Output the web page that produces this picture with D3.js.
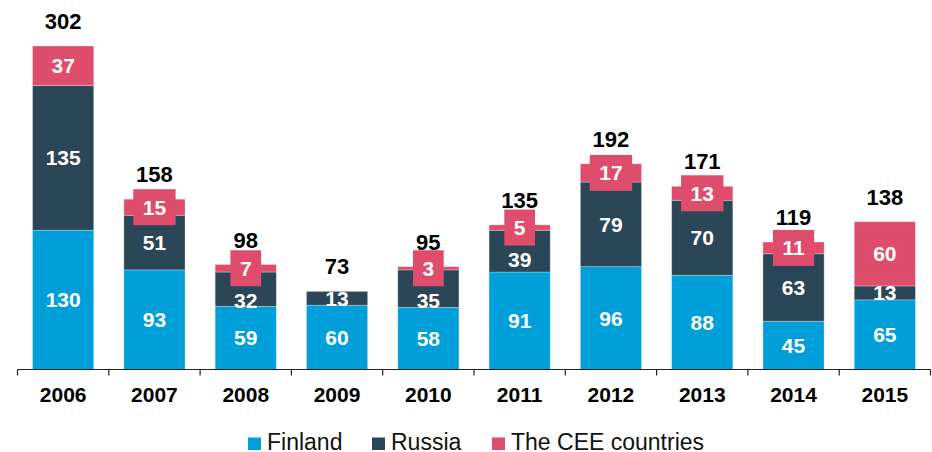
<!DOCTYPE html>
<html>
<head>
<meta charset="utf-8">
<script src="https://cdn.jsdelivr.net/npm/d3@7"></script>
<style>
    body { margin: 0; background: #fff; }
    svg text { font-family: Arial, "Liberation Sans", sans-serif; }
</style>
</head>
<body>
<svg id="chart" width="932" height="452"></svg>
<script>
'use strict';
let years = ["2006", "2007", "2008", "2009", "2010", "2011", "2012", "2013", "2014", "2015"];
let finland = [130, 93, 59, 60, 58, 91, 96, 88, 45, 65];
let russia = [135, 51, 32, 13, 35, 39, 79, 70, 63, 13];
let cee = [37, 15, 7, 0.3, 3, 5, 17, 13, 11, 60];
let totals = [302, 158, 98, 73, 95, 135, 192, 171, 119, 138];
let seriesNames = ["Finland", "Russia", "The CEE countries"];

let colors = ["#009fd9", "#2b4656", "#de4d6b"];

let svg = d3.select("#chart");
let baseY = 369.5;

let x = d3.scaleBand()
    .domain(years)
    .range([17.5, 930.5])
    .paddingInner(0.33)
    .paddingOuter(0.165);

let y = d3.scaleLinear()
    .domain([0, 302])
    .range([baseY, 46]);

let rows = years.map((yr, i) => ({year: yr, Finland: finland[i], Russia: russia[i], "The CEE countries": cee[i], total: totals[i]}));
let stacked = d3.stack().keys(seriesNames)(rows);

// bars
let layer = svg.selectAll("g.layer")
    .data(stacked)
    .enter().append("g")
    .attr("class", "layer")
    .attr("fill", (d, i) => colors[i]);

layer.selectAll("rect")
    .data(d => d)
    .enter().append("rect")
    .attr("x", d => x(d.data.year))
    .attr("width", x.bandwidth())
    .attr("y", d => y(d[1]))
    .attr("height", d => y(d[0]) - y(d[1]))
    .attr("stroke", "rgba(255,255,255,0.35)")
    .attr("stroke-width", 0.8);

// segment labels, top series first so the lower labels can move out of the CEE boxes
let boxBottom = {};
[2, 1, 0].forEach(si => {
    let g = svg.append("g");
    stacked[si].forEach(d => {
        let v = d[1] - d[0];
        if (v < 1) return;
        let yr = d.data.year;
        let cx = x(yr) + x.bandwidth() / 2;
        let cy = (y(d[0]) + y(d[1])) / 2;
        if (si === 1 && boxBottom[yr] !== undefined) {
            cy = Math.max(cy, boxBottom[yr] + 14);
        }
        let t = g.append("text")
            .attr("x", cx)
            .attr("y", cy + 7.5)
            .attr("text-anchor", "middle")
            .attr("fill", "#fff")
            .attr("font-size", 21)
            .attr("font-weight", "bold")
            .text(d3.format("d")(v));
        if (si === 2) {
            let w = t.node().getComputedTextLength() + 19;
            g.insert("rect", "text")
                .attr("x", cx - w / 2)
                .attr("y", cy - 18)
                .attr("width", w)
                .attr("height", 36)
                .attr("fill", colors[2]);
            boxBottom[yr] = cy + 18;
        }
    });
});

// totals
let topLayer = stacked[stacked.length - 1];
svg.append("g").selectAll("text")
    .data(topLayer)
    .enter().append("text")
    .attr("x", d => x(d.data.year) + x.bandwidth() / 2)
    .attr("y", d => y(d[1]) - 17)
    .attr("text-anchor", "middle")
    .attr("font-size", 22)
    .attr("font-weight", "bold")
    .attr("fill", "#000")
    .text(d => d.data.total);

// x axis
let axis = svg.append("g").attr("class", "x-axis");
axis.append("line")
    .attr("x1", x.range()[0]).attr("x2", x.range()[1])
    .attr("y1", baseY).attr("y2", baseY)
    .attr("stroke", "#222").attr("stroke-width", 1.2);
let bounds = d3.range(years.length + 1).map(i => x.range()[0] + i * x.step());
axis.selectAll("line.tick")
    .data(bounds)
    .enter().append("line")
    .attr("class", "tick")
    .attr("x1", d => d).attr("x2", d => d)
    .attr("y1", baseY).attr("y2", baseY + 6)
    .attr("stroke", "#222").attr("stroke-width", 1.2);
axis.selectAll("text")
    .data(years)
    .enter().append("text")
    .attr("x", d => x(d) + x.bandwidth() / 2)
    .attr("y", 401.5)
    .attr("text-anchor", "middle")
    .attr("font-size", 21)
    .attr("font-weight", "bold")
    .attr("fill", "#000")
    .text(d => d);

// legend
let legendX = [248, 372, 492];
let legend = svg.append("g").selectAll("g")
    .data(seriesNames)
    .enter().append("g")
    .attr("transform", (d, i) => "translate(" + legendX[i] + ",0)");
legend.append("rect")
    .attr("x", 0).attr("y", 437.5)
    .attr("width", 13).attr("height", 12.5)
    .attr("fill", (d, i) => colors[i]);
legend.append("text")
    .attr("x", 19).attr("y", 449.5)
    .attr("font-size", 23)
    .attr("fill", "#111")
    .text(d => d);
</script>
</body>
</html>
